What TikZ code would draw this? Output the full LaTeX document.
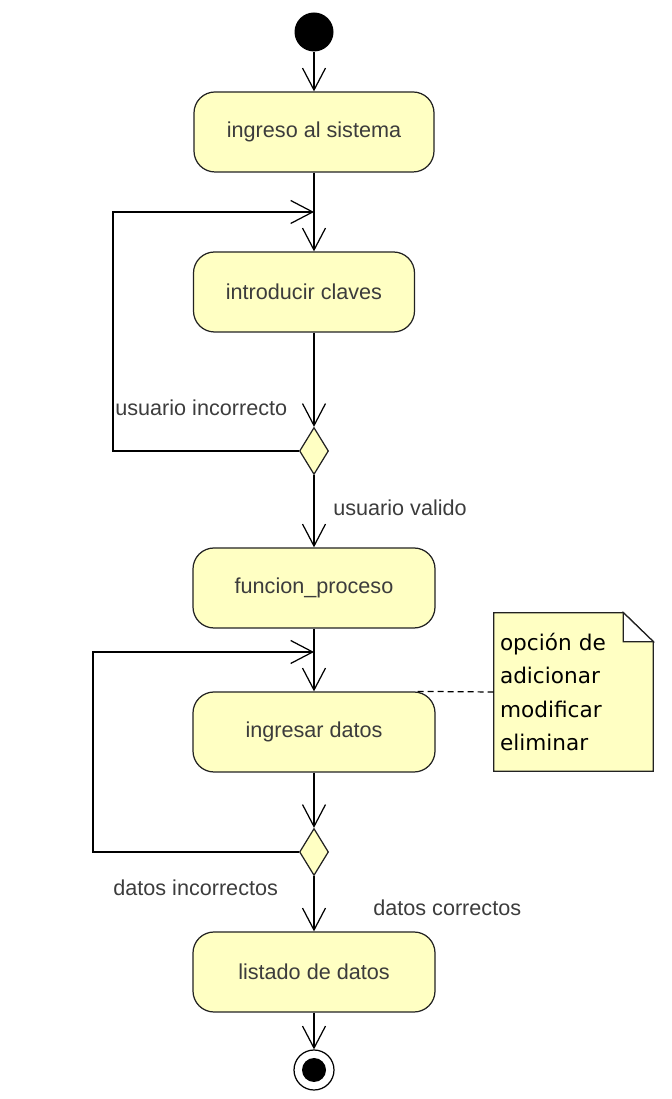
\documentclass[tikz,border=0pt]{standalone}
\usepackage{fontspec}
\setmainfont{Liberation Sans}
\newfontfamily\notefont{DejaVu Sans}
\usetikzlibrary{arrows.meta}
\usetikzlibrary{shapes.geometric}
\usetikzlibrary{backgrounds}
\definecolor{actfill}{HTML}{FFFFC3}
\definecolor{txtgray}{HTML}{3C3C3C}
\definecolor{linegray}{HTML}{222222}

\begin{document}
\begin{tikzpicture}[
  act/.style={draw=linegray,fill=actfill,rounded corners=0.42cm,line width=0.7pt,minimum height=1.6cm,text=txtgray,font=\fontsize{12.3}{15}\selectfont},
  decision/.style={diamond,draw=linegray,fill=actfill,line width=0.7pt,minimum width=0.58cm,minimum height=0.94cm,inner sep=0pt},
  flow/.style={draw=black,line width=0.7pt,-{Straight Barb[length=0.44cm,width=0.46cm]}},
  lbl/.style={anchor=west,text=txtgray,font=\fontsize{12.3}{15}\selectfont,inner sep=0pt}]
\useasboundingbox (0,0) rectangle (13.42,21.98);

\node[circle,fill=black,minimum size=0.78cm,inner sep=0pt] (inicio) at (6.28,21.34) {};
\node[act,minimum width=4.8cm] (ingreso) at (6.28,19.34) {ingreso al sistema};
\coordinate (j1) at (6.28,17.74);
\node[act,minimum width=4.42cm] (claves) at (6.08,16.14) {introducir claves};
\node[decision] (dec1) at (6.28,12.96) {};
\coordinate (lp1) at (2.26,17.74);
\node[lbl] (incorrecto) at (2.30,13.82) {usuario incorrecto};
\node[lbl] (valido) at (6.66,11.82) {usuario valido};
\node[act,minimum width=4.84cm] (proceso) at (6.28,10.22) {funcion\_proceso};
\coordinate (j2) at (6.28,8.94);
\node[act,minimum width=4.84cm] (ingresar) at (6.28,7.34) {ingresar datos};
\node[decision] (dec2) at (6.28,4.94) {};
\coordinate (lp2) at (1.86,8.94);
\node[lbl] (dincorrectos) at (2.26,4.22) {datos incorrectos};
\node[lbl] (dcorrectos) at (7.46,3.82) {datos correctos};
\node[act,minimum width=4.84cm] (listado) at (6.28,2.54) {listado de datos};
\node[circle,draw=black,fill=white,line width=0.7pt,minimum size=0.8cm,inner sep=0pt] (fin) at (6.28,0.58) {};
\fill (fin.center) circle (0.24cm);

% nota
\node[text width=2.94cm,inner xsep=0.12cm,minimum height=3.16cm,align=left,font=\notefont\fontsize{12.3}{18.8}\selectfont] (nota) at (11.47,8.14) {opción de\\adicionar\\modificar\\eliminar};
\begin{scope}[on background layer]
\draw[draw=linegray,fill=actfill,line width=0.7pt] (nota.north west) -- ([xshift=-0.6cm]nota.north east) -- ([yshift=-0.58cm]nota.north east) -- (nota.south east) -- (nota.south west) -- cycle;
\draw[draw=linegray,fill=white,line width=0.7pt] ([xshift=-0.6cm]nota.north east) -- ([xshift=-0.6cm,yshift=-0.58cm]nota.north east) -- ([yshift=-0.58cm]nota.north east) -- cycle;
\end{scope}
\draw[dash pattern=on 3.4pt off 2.3pt,line width=0.7pt] (nota.west) -- ([xshift=-0.43cm]ingresar.north east);

\draw[flow] (inicio) -- (ingreso);
\draw[flow] (ingreso) -- (ingreso |- claves.north);
\draw[flow] (dec1 |- claves.south) -- (dec1);
\draw[flow] (dec1.west) -| (lp1) -- (j1);
\draw[flow] (dec1) -- (proceso);
\draw[flow] (proceso) -- (ingresar);
\draw[flow] (ingresar) -- (dec2);
\draw[flow] (dec2.west) -| (lp2) -- (j2);
\draw[flow] (dec2) -- (listado);
\draw[flow] (listado) -- (fin);

\end{tikzpicture}
\end{document}
